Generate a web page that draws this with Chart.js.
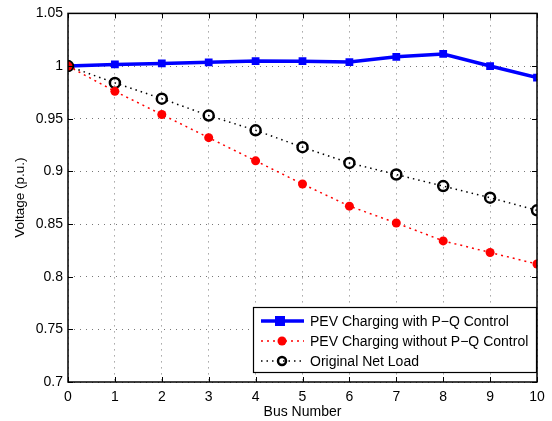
<!DOCTYPE html>
<html>
<head>
<meta charset="utf-8">
<script src="https://cdn.jsdelivr.net/npm/chart.js@4/dist/chart.umd.min.js"></script>
<style>
html,body{margin:0;padding:0;background:#fff;}
#wrap{width:552px;height:421px;position:relative;}
</style>
</head>
<body>
<div id="wrap"><canvas id="c" width="552" height="421"></canvas></div>
<script>
const buses = [0,1,2,3,4,5,6,7,8,9,10];
const withPQ = [1.0,1.0015,1.0025,1.0035,1.0047,1.0046,1.0038,1.0088,1.0115,1.0,0.989];
const withoutPQ = [1.0,0.976,0.954,0.932,0.910,0.888,0.867,0.851,0.834,0.823,0.812];
const originalLoad = [1.0,0.984,0.969,0.953,0.939,0.923,0.908,0.897,0.886,0.875,0.863];
const seriesNames = ['PEV Charging with P\u2212Q Control','PEV Charging without P\u2212Q Control','Original Net Load'];
const xTitle = 'Bus Number';
const yTitle = 'Voltage (p.u.)';

const FONT = 'Liberation Sans, Arial, Helvetica, sans-serif';
const toXY = arr => arr.map((v,i)=>({x:buses[i], y:v}));

const frame = {
  id:'frame',
  afterDatasetsDraw(chart){
    const {ctx, chartArea:a} = chart;
    const xs = chart.scales.x, ys = chart.scales.y;
    ctx.save();
    ctx.strokeStyle = '#000';
    ctx.lineWidth = 1;
    ctx.beginPath();
    const tl = 5;
    for (let v=0; v<=10; v++){
      const px = Math.round(xs.getPixelForValue(v))+0.5;
      ctx.moveTo(px,a.bottom); ctx.lineTo(px,a.bottom-tl);
      ctx.moveTo(px,a.top); ctx.lineTo(px,a.top+tl);
    }
    for (let k=0; k<=7; k++){
      const py = Math.round(ys.getPixelForValue(0.7+0.05*k))+0.5;
      ctx.moveTo(a.left,py); ctx.lineTo(a.left+tl,py);
      ctx.moveTo(a.right,py); ctx.lineTo(a.right-tl,py);
    }
    ctx.stroke();
    ctx.lineWidth = 1.5;
    ctx.strokeRect(a.left, a.top, a.right-a.left, a.bottom-a.top);
    // legend
    const lx = 253, ly = 307, lw = 283, lh = 65;
    ctx.fillStyle = '#fff';
    ctx.fillRect(lx, ly, lw, lh);
    ctx.lineWidth = 1.2;
    ctx.strokeRect(lx+0.5, ly+0.5, lw, lh);
    const rows = [321, 341, 361];
    ctx.font = '14px ' + FONT;
    ctx.textBaseline = 'middle';
    ctx.textAlign = 'left';
    chart.data.datasets.forEach((ds,i)=>{
      const y = rows[i];
      ctx.save();
      ctx.strokeStyle = ds.borderColor;
      ctx.lineWidth = ds.borderWidth;
      ctx.setLineDash(ds.borderDash || []);
      ctx.beginPath(); ctx.moveTo(261,y); ctx.lineTo(304,y); ctx.stroke();
      ctx.restore();
      ctx.save();
      if (i===0){
        ctx.fillStyle = '#0000ff';
        ctx.fillRect(280-5,y-5,10,10);
      } else if (i===1){
        ctx.fillStyle = '#ff0000';
        ctx.beginPath(); ctx.arc(282,y,4.5,0,Math.PI*2); ctx.fill();
      } else {
        ctx.strokeStyle = '#000'; ctx.lineWidth = 2.5;
        ctx.beginPath(); ctx.arc(282,y,4,0,Math.PI*2); ctx.stroke();
      }
      ctx.restore();
      ctx.fillStyle = '#000';
      ctx.fillText(ds.label, 310, y+1);
    });
    ctx.restore();
  }
};

new Chart(document.getElementById('c'), {
  type:'line',
  data:{
    datasets:[
      {label:seriesNames[0], data:toXY(withPQ), borderColor:'#0000ff', backgroundColor:'#0000ff',
       borderWidth:3.5, pointStyle:'rect', pointRadius:5.5, pointBorderWidth:0, order:3},
      {label:seriesNames[1], data:toXY(withoutPQ), borderColor:'#ff0000', backgroundColor:'#ff0000',
       borderWidth:1.5, borderDash:[2,4], pointStyle:'circle', pointRadius:4.5, pointBorderWidth:0, order:1},
      {label:seriesNames[2], data:toXY(originalLoad), borderColor:'#000000', backgroundColor:'rgba(0,0,0,0)',
       borderWidth:1.5, borderDash:[1.5,4], pointStyle:'circle', pointRadius:5, pointBorderWidth:2.5,
       pointBorderColor:'#000', order:2}
    ]
  },
  options:{
    responsive:false,
    animation:false,
    layout:{padding:{top:13,right:15,left:0,bottom:0}},
    plugins:{legend:{display:false}, tooltip:{enabled:false}},
    elements:{line:{tension:0}},
    scales:{
      x:{type:'linear', min:0, max:10,
         ticks:{stepSize:1, color:'#000', font:{family:FONT, size:14}, padding:7, maxRotation:0},
         grid:{color:'#777', lineWidth:1, drawTicks:false},
         border:{display:false, dash:[1,5]},
         title:{display:true, text:xTitle, color:'#000', font:{family:FONT, size:14}, padding:{top:0,bottom:0}},
         afterFit(s){ s.height = 39; }
      },
      y:{type:'linear', min:0.7, max:1.05,
         ticks:{stepSize:0.05, color:'#000', font:{family:FONT, size:14}, padding:5,
           callback:v=>String(parseFloat(v.toFixed(2)))},
         grid:{color:'#777', lineWidth:1, drawTicks:false},
         border:{display:false, dash:[1,5]},
         title:{display:true, text:yTitle, color:'#000', font:{family:FONT, size:13.5}, padding:{top:12,bottom:0}},
         afterFit(s){ s.width = 68; }
      }
    }
  },
  plugins:[frame]
});
</script>
</body>
</html>
